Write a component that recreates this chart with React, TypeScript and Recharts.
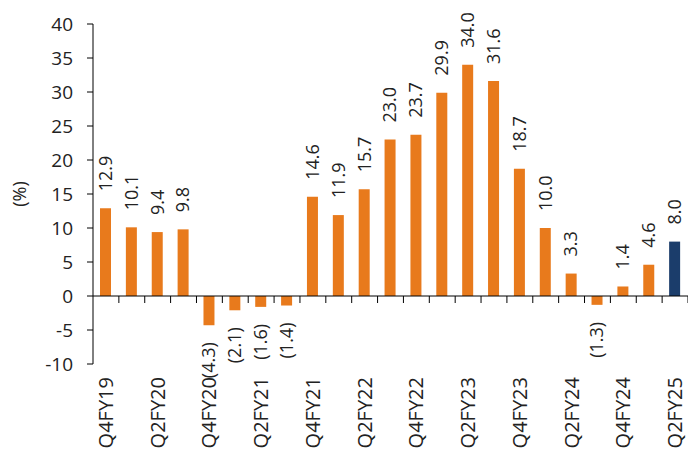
import React from 'react';
import { BarChart, Bar, XAxis, YAxis, Cell, LabelList, ReferenceLine } from 'recharts';

const quarters = [
  'Q4FY19', 'Q1FY20', 'Q2FY20', 'Q3FY20', 'Q4FY20', 'Q1FY21', 'Q2FY21', 'Q3FY21',
  'Q4FY21', 'Q1FY22', 'Q2FY22', 'Q3FY22', 'Q4FY22', 'Q1FY23', 'Q2FY23', 'Q3FY23',
  'Q4FY23', 'Q1FY24', 'Q2FY24', 'Q3FY24', 'Q4FY24', 'Q1FY25', 'Q2FY25',
];
const growth = [
  12.9, 10.1, 9.4, 9.8, -4.3, -2.1, -1.6, -1.4,
  14.6, 11.9, 15.7, 23.0, 23.7, 29.9, 34.0, 31.6,
  18.7, 10.0, 3.3, -1.3, 1.4, 4.6, 8.0,
];
const yTicks = [-10, -5, 0, 5, 10, 15, 20, 25, 30, 35, 40];

const data = quarters.map((quarter, i) => ({ quarter, growth: growth[i] }));

const ORANGE = '#E87A1C';
const NAVY = '#1B3D6B';
const INK = '#222';
const FONT = '"Open Sans", sans-serif';

// every other quarter gets a label, rotated to read bottom-up
const QuarterTick = (props: any) => {
  const { x, y, payload, index } = props;
  if (index % 2 !== 0) return <g />;
  return (
    <text
      transform={`translate(${x},${y + 13}) rotate(-90)`}
      textAnchor="end"
      dy="0.35em"
      fill={INK}
      fontSize={20}
      fontFamily={FONT}
    >
      {payload.value}
    </text>
  );
};

// negatives are shown in brackets below the bar
const ValueLabel = (props: any) => {
  const { x, y, width, height, value } = props;
  const cx = x + width / 2;
  const top = Math.min(y, y + height);
  const bottom = Math.max(y, y + height);
  const neg = value < 0;
  const text = neg ? `(${Math.abs(value).toFixed(1)})` : value.toFixed(1);
  const ay = neg ? bottom + 17 : top - 17;
  return (
    <text
      transform={`translate(${cx},${ay}) rotate(-90)`}
      textAnchor={neg ? 'end' : 'start'}
      dy="0.35em"
      fill={INK}
      fontSize={18}
      fontFamily={FONT}
    >
      {text}
    </text>
  );
};

// category axis drawn along zero, with ticks between the bars
const ZeroAxis = (props: any) => {
  const { x1, x2, y1 } = props;
  const step = (x2 - x1) / quarters.length;
  return (
    <g>
      <line x1={x1} x2={x2} y1={y1} y2={y1} stroke="#000" strokeWidth={1} />
      {quarters.map((_, i) => (
        <line
          key={i}
          x1={x1 + step * (i + 1)}
          x2={x1 + step * (i + 1)}
          y1={y1}
          y2={y1 + 7}
          stroke="#000"
          strokeWidth={1}
        />
      ))}
    </g>
  );
};

const UnitTitle = (props: any) => {
  const { viewBox } = props;
  const cy = viewBox.y + viewBox.height / 2;
  return (
    <text
      transform={`translate(20,${cy}) rotate(-90)`}
      textAnchor="middle"
      dy="0.35em"
      fill={INK}
      fontSize={18}
      fontFamily={FONT}
    >
      (%)
    </text>
  );
};

export default function App() {
  return (
    <div style={{ position: 'absolute', left: 0, top: 0, width: 688, height: 456, background: '#fff' }}>
      <BarChart width={688} height={456} data={data} margin={{ top: 24, right: 0, bottom: 0, left: 0 }}>
        <XAxis
          dataKey="quarter"
          interval={0}
          axisLine={false}
          tickLine={false}
          tickSize={0}
          tickMargin={0}
          height={92}
          tick={<QuarterTick />}
        />
        <YAxis
          domain={[-10, 40]}
          ticks={yTicks}
          width={93}
          tickSize={6}
          tickMargin={14}
          axisLine={{ stroke: '#000' }}
          tickLine={{ stroke: '#000' }}
          tick={{ fill: INK, fontSize: 19, fontFamily: FONT }}
          label={<UnitTitle />}
        />
        <Bar dataKey="growth" barSize={11} isAnimationActive={false}>
          {data.map((_, i) => (
            <Cell key={i} fill={i === data.length - 1 ? NAVY : ORANGE} />
          ))}
          <LabelList dataKey="growth" content={<ValueLabel />} />
        </Bar>
        <ReferenceLine y={0} shape={<ZeroAxis />} />
      </BarChart>
    </div>
  );
}
